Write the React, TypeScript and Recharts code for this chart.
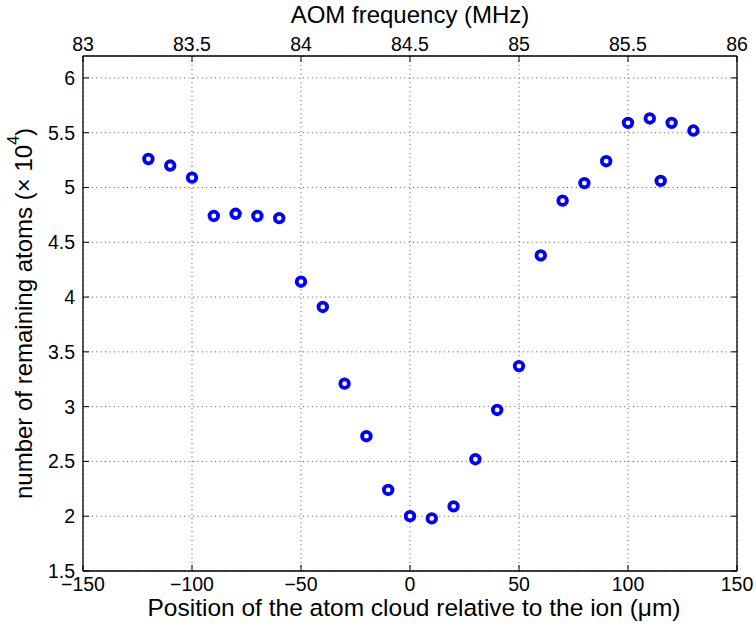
import { CartesianGrid, Scatter, ScatterChart, XAxis, YAxis } from 'recharts'

const positions = [
  -120, -110, -100, -90, -80, -70, -60, -50, -40, -30, -20, -10, 0, 10, 20, 30, 40, 50, 60, 70, 80, 90, 100, 110, 115,
  120, 130,
]
const atoms = [
  5.26, 5.2, 5.09, 4.74, 4.76, 4.74, 4.72, 4.14, 3.91, 3.21, 2.73, 2.24, 2.0, 1.98, 2.09, 2.52, 2.97, 3.37, 4.38, 4.88,
  5.04, 5.24, 5.59, 5.63, 5.06, 5.59, 5.52,
]

const positionTicks = [-150, -100, -50, 0, 50, 100, 150]
const freqTicks = [83, 83.5, 84, 84.5, 85, 85.5, 86]
const atomTicks = [1.5, 2, 2.5, 3, 3.5, 4, 4.5, 5, 5.5, 6]

const FONT = '"Liberation Sans", Arial, Helvetica, sans-serif'
const TICK_LEN = 6

const fmt = (v: number) => (v < 0 ? '\u2212' + Math.abs(v) : String(v))

const data = positions.map((x, i) => ({ x, y: atoms[i] }))

const BottomTick = ({ x, y, payload }: any) => (
  <g>
    <line x1={x} x2={x} y1={y - 12} y2={y - 12 - TICK_LEN} stroke="#000" />
    <text x={x} y={y + 1} textAnchor="middle" dominantBaseline="central" fontSize={19.5} fontFamily={FONT} fill="#000">
      {fmt(payload.value)}
    </text>
  </g>
)

const TopTick = ({ x, y, payload }: any) => (
  <g>
    <line x1={x} x2={x} y1={y + 12} y2={y + 12 + TICK_LEN} stroke="#000" />
    <text x={x} y={y} textAnchor="middle" dominantBaseline="central" fontSize={19.5} fontFamily={FONT} fill="#000">
      {payload.value}
    </text>
  </g>
)

const LeftTick = ({ x, y, payload }: any) => (
  <g>
    <line x1={x + 8} x2={x + 8 + TICK_LEN} y1={y} y2={y} stroke="#000" />
    <text x={x} y={y} textAnchor="end" dominantBaseline="central" fontSize={19.5} fontFamily={FONT} fill="#000">
      {payload.value}
    </text>
  </g>
)

const RightTick = ({ x, y }: any) => <line x1={x} x2={x - TICK_LEN} y1={y} y2={y} stroke="#000" />

const Ring = ({ cx, cy }: any) => <circle cx={cx} cy={cy} r={4.3} fill="#fff" stroke="#0000ff" strokeWidth={3.8} />

export default function App() {
  return (
    <div style={{ position: 'absolute', left: 0, top: 0 }}>
      <ScatterChart width={756} height={628} margin={{ top: 0, right: 0, bottom: 0, left: 0 }}>
        <CartesianGrid xAxisId="pos" yAxisId="left" stroke="#555" strokeDasharray="1 3.4" />
        <XAxis
          xAxisId="pos"
          dataKey="x"
          type="number"
          domain={[-150, 150]}
          ticks={positionTicks}
          allowDataOverflow
          height={57}
          tickSize={0}
          tickMargin={12}
          axisLine={{ stroke: '#000', strokeWidth: 1.3 }}
          tick={<BottomTick />}
          label={{
            content: ({ viewBox }: any) => (
              <text
                x={viewBox.x + viewBox.width / 2 + 4}
                y={viewBox.y + 36}
                textAnchor="middle"
                dominantBaseline="central"
                fontSize={24.5}
                fontFamily={FONT}
                fill="#000"
              >
                Position of the atom cloud relative to the ion (μm)
              </text>
            ),
          }}
        />
        <XAxis
          xAxisId="freq"
          dataKey="x"
          orientation="top"
          type="number"
          domain={[83, 86]}
          ticks={freqTicks}
          allowDataOverflow
          height={56}
          tickSize={0}
          tickMargin={12}
          axisLine={{ stroke: '#000', strokeWidth: 1.3 }}
          tick={<TopTick />}
          label={{
            content: ({ viewBox }: any) => (
              <text
                x={viewBox.x + viewBox.width / 2}
                y={14}
                textAnchor="middle"
                dominantBaseline="central"
                fontSize={24}
                fontFamily={FONT}
                fill="#000"
              >
                AOM frequency (MHz)
              </text>
            ),
          }}
        />
        <YAxis
          yAxisId="left"
          dataKey="y"
          type="number"
          domain={[1.5, 6.2]}
          ticks={atomTicks}
          allowDataOverflow
          width={83}
          tickSize={0}
          tickMargin={8}
          axisLine={{ stroke: '#000', strokeWidth: 1.3 }}
          tick={<LeftTick />}
          label={{
            content: ({ viewBox }: any) => {
              const cx = 23
              const cy = viewBox.y + viewBox.height / 2
              return (
                <text
                  x={cx}
                  y={cy}
                  transform={`rotate(-90 ${cx} ${cy})`}
                  textAnchor="middle"
                  dominantBaseline="central"
                  fontSize={24}
                  fontFamily={FONT}
                  fill="#000"
                >
                  number of remaining atoms (× 10
                  <tspan fontSize={16} dy={-10}>
                    4
                  </tspan>
                  <tspan dy={10}>)</tspan>
                </text>
              )
            },
          }}
        />
        <YAxis
          yAxisId="right"
          dataKey="y"
          orientation="right"
          type="number"
          domain={[1.5, 6.2]}
          ticks={atomTicks}
          allowDataOverflow
          width={19}
          tickSize={0}
          tickMargin={0}
          axisLine={{ stroke: '#000', strokeWidth: 1.3 }}
          tick={<RightTick />}
        />
        {/* empty series so the top and right frame axes get drawn */}
        <Scatter data={[]} xAxisId="freq" yAxisId="right" isAnimationActive={false} />
        <Scatter
          data={data}
          xAxisId="pos"
          yAxisId="left"
          shape={<Ring />}
          isAnimationActive={false}
        />
      </ScatterChart>
    </div>
  )
}
